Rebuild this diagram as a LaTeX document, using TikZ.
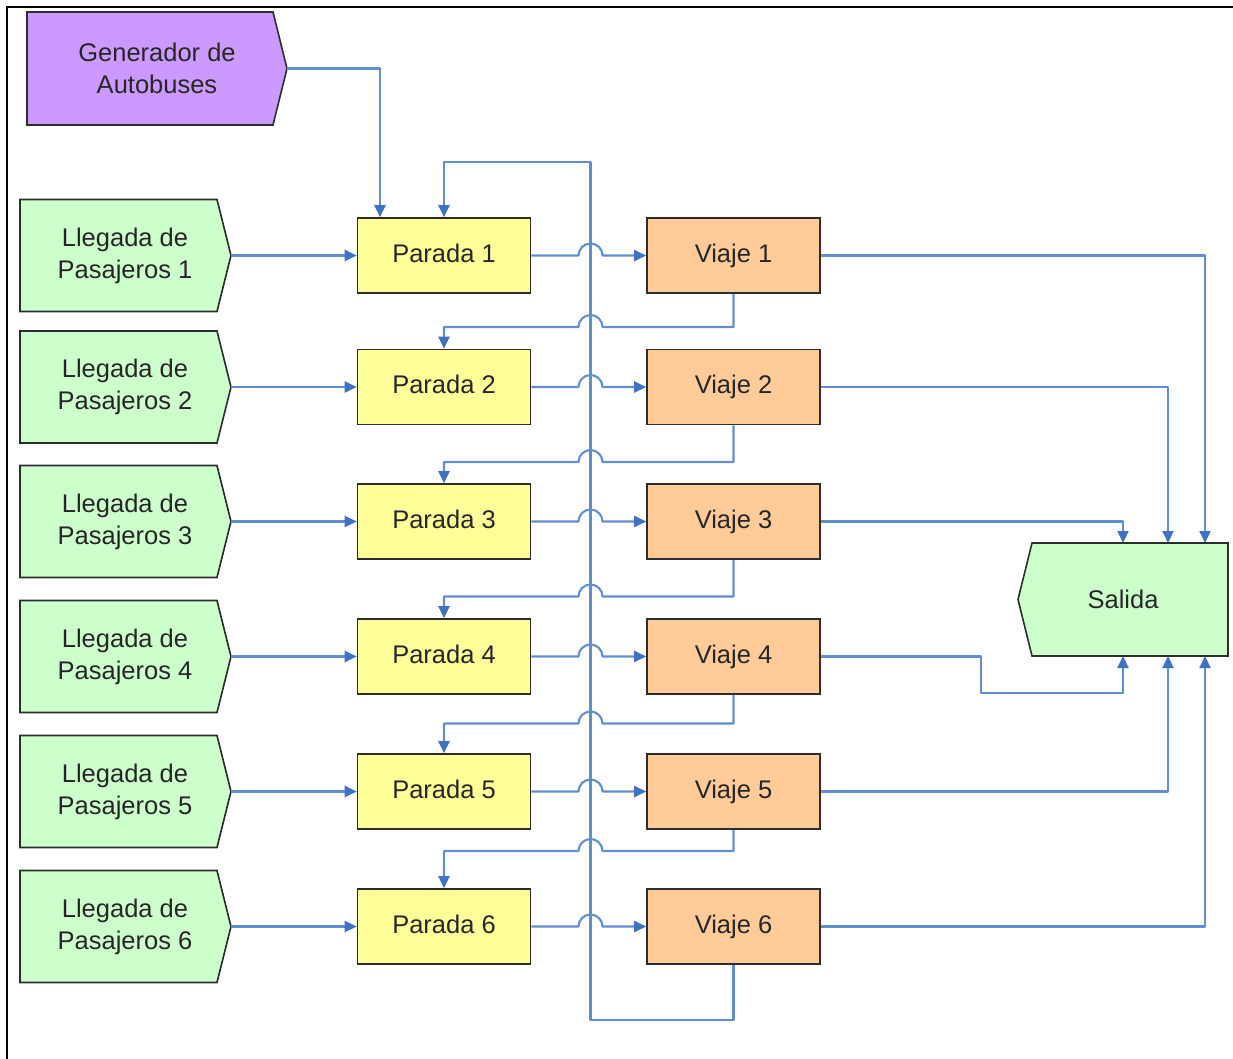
\documentclass[tikz,border=0pt]{standalone}
\usepackage{fontspec}
\setmainfont{Liberation Sans}
\usetikzlibrary{arrows.meta,calc}

\definecolor{linkblue}{RGB}{98,142,208}
\definecolor{tipblue}{RGB}{64,114,196}
\definecolor{genfill}{RGB}{204,153,255}
\definecolor{inpfill}{RGB}{204,255,204}
\definecolor{stopfill}{RGB}{255,255,153}
\definecolor{tripfill}{RGB}{255,204,153}
\definecolor{edgegray}{RGB}{45,45,45}
\definecolor{ink}{RGB}{38,38,38}

\begin{document}
\begin{tikzpicture}[x=1pt,y=-1pt,
  lbl/.style={text=ink, font=\fontsize{25.5}{32}\selectfont, align=center, inner sep=0pt},
  box/.style={lbl, draw=edgegray, line width=1.6pt, minimum width=173pt, minimum height=75pt,
    text height=18.5pt, text depth=5.5pt},
  stopbox/.style={box, fill=stopfill},
  tripbox/.style={box, fill=tripfill},
  pentagon/.style={lbl, minimum width=211pt, minimum height=112pt},
  outline/.style={draw=edgegray, line width=1.6pt, line join=miter},
  link/.style={draw=linkblue, line width=2.1pt, line join=round},
  flow/.style={link, -{Triangle[length=12pt,width=11pt,color=tipblue]}},
]
\useasboundingbox (0,0) rectangle (1233,1059);

% frame on the left and top
\draw[line width=2.6pt] (7,1059) -- (7,7) -- (1233,7);

% bus generator (arrow-shaped block pointing right)
\filldraw[outline, fill=genfill] (27,12) -- (273,12) -- (287,68.5) -- (273,125) -- (27,125) -- cycle;
\node[pentagon, minimum width=260pt, minimum height=113pt] (gen) at (157,68.5) {Generador de\\Autobuses};

% exit block (arrow-shaped, pointing left)
\filldraw[outline, fill=inpfill] (1018,599.5) -- (1032,543) -- (1228,543) -- (1228,656) -- (1032,656) -- cycle;
\node[lbl, minimum width=210pt, minimum height=113pt] (sal) at (1123,599.5) {Salida};

% rows: passenger arrivals, stops and trips
\foreach \i/\y in {1/255.5, 2/387, 3/521.5, 4/656.5, 5/791.5, 6/926.5} {
  \filldraw[outline, fill=inpfill] (20,\y-56) -- (217,\y-56) -- (231,\y) -- (217,\y+56) -- (20,\y+56) -- cycle;
  \node[pentagon] (lleg\i) at (125,\y) {Llegada de\\Pasajeros \i};
  \node[stopbox] (par\i) at (444,\y) {Parada \i};
  \node[tripbox] (via\i) at (733.5,\y) {Viaje \i};
}

% main loop column
\coordinate (col) at (590.5,0);

% generator feeds the first stop
\draw[flow] (gen.east) -| ([xshift=-64pt]par1.north);

% arrivals into stops
\foreach \i in {1,...,6} {
  \draw[flow] (lleg\i.east) -- (par\i.west);
}

% stop to trip, hopping over the loop column
\foreach \i in {1,...,6} {
  \draw[flow] (par\i.east) -- ($(col |- par\i.east)+(-12,0)$)
    arc[start angle=180, end angle=0, radius=12pt]
    -- (via\i.west);
}

% trip to next stop, hopping over the loop column
\foreach \i/\j/\yy in {1/2/327, 2/3/462, 3/4/596.5, 4/5/723.5, 5/6/851} {
  \draw[flow] (via\i.south) -- (via\i.south |- 0,\yy)
    -- ($(col)+(12,\yy)$)
    arc[start angle=0, end angle=180, radius=12pt]
    -- (par\j.north |- 0,\yy) -- (par\j.north);
}

% last trip closes the loop back to the first stop
\draw[flow] (via6.south) -- (via6.south |- 0,1020) -| (col |- 0,162)
  -| (par1.north);

% trips to the exit
\draw[flow] (via1.east) -| (1205,543);
\draw[flow] (via2.east) -| (1168,543);
\draw[flow] (via3.east) -| (1123,543);
\draw[flow] (via4.east) -- (981,656.5) -- (981,693) -| (1123,656);
\draw[flow] (via5.east) -| (1168,656);
\draw[flow] (via6.east) -| (1205,656);
\end{tikzpicture}
\end{document}
